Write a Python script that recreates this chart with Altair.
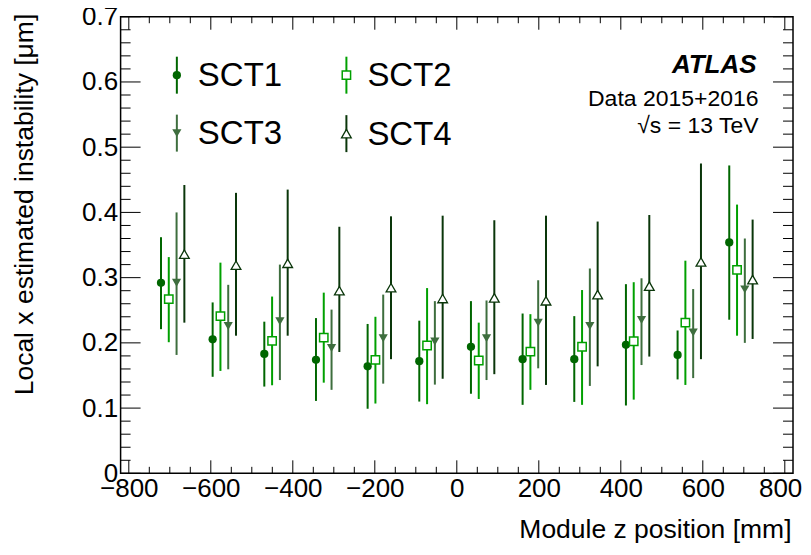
import altair as alt
import pandas as pd

# ---------------- data ----------------
series_names = ["SCT1", "SCT2", "SCT3", "SCT4"]
module_z = [-693, -567, -441, -315, -189, -63, 63, 189, 315, 441, 567, 693]
series_offset = [-28.5, -9.5, 9.5, 28.5]

sct1_val = [0.292, 0.2055, 0.183, 0.174, 0.164, 0.172, 0.194, 0.175, 0.175, 0.197, 0.1815, 0.354]
sct1_hi = [0.362, 0.262, 0.2325, 0.238, 0.229, 0.234, 0.264, 0.245, 0.241, 0.290, 0.219, 0.472]
sct1_lo = [0.221, 0.148, 0.133, 0.111, 0.099, 0.110, 0.122, 0.105, 0.1095, 0.104, 0.144, 0.2355]

sct2_val = [0.267, 0.241, 0.203, 0.208, 0.174, 0.196, 0.173, 0.1865, 0.194, 0.2025, 0.231, 0.312]
sct2_hi = [0.3315, 0.323, 0.271, 0.277, 0.240, 0.284, 0.231, 0.244, 0.281, 0.293, 0.326, 0.412]
sct2_lo = [0.201, 0.157, 0.135, 0.139, 0.107, 0.106, 0.114, 0.128, 0.105, 0.113, 0.1355, 0.211]

sct3_val = [0.292, 0.226, 0.233, 0.192, 0.207, 0.202, 0.207, 0.231, 0.226, 0.235, 0.216, 0.282]
sct3_hi = [0.400, 0.289, 0.320, 0.251, 0.274, 0.264, 0.265, 0.296, 0.314, 0.299, 0.2825, 0.360]
sct3_lo = [0.1815, 0.1595, 0.143, 0.128, 0.1375, 0.136, 0.143, 0.161, 0.134, 0.166, 0.146, 0.200]

sct4_val = [0.336, 0.319, 0.322, 0.280, 0.2845, 0.268, 0.269, 0.2645, 0.274, 0.287, 0.324, 0.297]
sct4_hi = [0.442, 0.430, 0.435, 0.378, 0.394, 0.395, 0.388, 0.395, 0.386, 0.396, 0.475, 0.389]
sct4_lo = [0.231, 0.211, 0.211, 0.186, 0.175, 0.145, 0.152, 0.1355, 0.164, 0.179, 0.175, 0.206]

x_major = [-800, -600, -400, -200, 0, 200, 400, 600, 800]
x_minor = [v for v in range(-800, 801, 50) if v % 200 != 0]
y_major = [0.0, 0.1, 0.2, 0.3, 0.4, 0.5, 0.6, 0.7]
y_minor = [round(0.02 * i, 2) for i in range(1, 35) if i % 5 != 0]

x_title = "Module z position [mm]"
y_title = "Local x estimated instability [\u03bcm]"
atlas_label = "ATLAS"
info_lines = ["Data 2015+2016", "\u221as = 13 TeV"]

# ---------------- styles ----------------
colors = ["#006600", "#00a000", "#3e6e3e", "#0a360a"]
FONT = "Liberation Sans"
W, H = 673, 457

rows = []
for name, off, vals, los, his in zip(
    series_names, series_offset,
    [sct1_val, sct2_val, sct3_val, sct4_val],
    [sct1_lo, sct2_lo, sct3_lo, sct4_lo],
    [sct1_hi, sct2_hi, sct3_hi, sct4_hi],
):
    for z, v, lo, hi in zip(module_z, vals, los, his):
        rows.append({"series": name, "z": z + off, "val": v, "lo": lo, "hi": hi})
df = pd.DataFrame(rows)

xscale = alt.Scale(domain=[-820, 820], nice=False, zero=False)
yscale = alt.Scale(domain=[0, 0.7], nice=False, zero=False)
cscale = alt.Scale(domain=series_names, range=colors)

x_axis = alt.Axis(
    values=x_major, ticks=False, tickSize=0, domain=False, grid=False,
    labelFont=FONT, labelFontSize=26, labelColor="black", labelPadding=2,
    labelFlush=False, labelOverlap=False,
    labelAlign={"condition": {"test": "datum.value == 800", "value": "right"}, "value": "center"},
    labelOffset={"condition": {"test": "datum.value == 800", "value": 17}, "value": 0},
    title=x_title, titleFont=FONT, titleFontSize=26.5, titleFontWeight="normal",
    titleColor="black", titleAlign="right", titleAnchor="end",
    titleX=671, titleY=64.5, titleBaseline="alphabetic",
)
y_axis = alt.Axis(
    values=y_major, ticks=False, tickSize=0, domain=False, grid=False,
    labelFont=FONT, labelFontSize=26, labelColor="black", labelPadding=3,
    labelFlush=False, labelOverlap=False, format=".1~f",
    title=y_title, titleFont=FONT, titleFontSize=26.5, titleFontWeight="normal",
    titleColor="black", titleAngle=-90, titleAlign="right", titleAnchor="end",
    titleX=-88.5, titleY=-3.5, titleBaseline="alphabetic",
)

base = alt.Chart(df)

# error bars
bars = base.mark_rule(strokeWidth=2).encode(
    x=alt.X("z:Q", scale=xscale, axis=x_axis),
    y=alt.Y("lo:Q", scale=yscale, axis=y_axis),
    y2="hi:Q",
    color=alt.Color("series:N", scale=cscale, legend=None),
)

marker_style = {
    "SCT1": dict(shape="circle", filled=True, size=68),
    "SCT2": dict(shape="square", filled=False, fill="white", size=70, strokeWidth=1.5, fillOpacity=1),
    "SCT3": dict(shape="triangle-down", filled=True, size=85),
    "SCT4": dict(shape="triangle-up", filled=False, fill="white", size=95, strokeWidth=1.3, fillOpacity=1),
}

marker_layers = []
for name, col in zip(series_names, colors):
    st = marker_style[name]
    m = base.transform_filter(alt.datum.series == name).mark_point(
        opacity=1, color=col, **st
    ).encode(
        x=alt.X("z:Q", scale=xscale, axis=x_axis),
        y=alt.Y("val:Q", scale=yscale, axis=y_axis),
    )
    marker_layers.append(m)

# tick marks (ROOT style, inward, on all four sides)
def yticks(vals, length):
    d = pd.DataFrame({"lo": vals})
    left = alt.Chart(d).mark_rule(color="black", strokeWidth=1).encode(
        y=alt.Y("lo:Q", scale=yscale, axis=y_axis), x=alt.value(0), x2=alt.value(length))
    right = alt.Chart(d).mark_rule(color="black", strokeWidth=1).encode(
        y=alt.Y("lo:Q", scale=yscale, axis=y_axis), x=alt.value(W), x2=alt.value(W - length))
    return [left, right]

def xticks(vals, length):
    d = pd.DataFrame({"z": vals})
    bottom = alt.Chart(d).mark_rule(color="black", strokeWidth=1).encode(
        x=alt.X("z:Q", scale=xscale, axis=x_axis), y=alt.value(H), y2=alt.value(H - length))
    top = alt.Chart(d).mark_rule(color="black", strokeWidth=1).encode(
        x=alt.X("z:Q", scale=xscale, axis=x_axis), y=alt.value(0), y2=alt.value(length))
    return [bottom, top]

tick_layers = yticks(y_major, 20) + yticks(y_minor, 10) + xticks(x_major, 13) + xticks(x_minor, 6.5)

# legend (manual, ROOT style)
leg_pos = {"SCT1": (56.3, 58.5), "SCT2": (226, 58.5), "SCT3": (56.3, 116.5), "SCT4": (226, 117)}
legend_layers = []
for name, col in zip(series_names, colors):
    lx, ly = leg_pos[name]
    d = pd.DataFrame({"series": [name]})
    legend_layers.append(alt.Chart(d).mark_rule(color=col, strokeWidth=2).encode(
        x=alt.value(lx), y=alt.value(ly - 18.5), y2=alt.value(ly + 18.5)))
    st = marker_style[name]
    legend_layers.append(alt.Chart(d).mark_point(opacity=1, color=col, **st).encode(
        x=alt.value(lx), y=alt.value(ly)))
    legend_layers.append(alt.Chart(d).mark_text(
        font=FONT, fontSize=33, color="black", align="left", baseline="alphabetic"
    ).encode(x=alt.value(lx + 21), y=alt.value(ly + 11), text="series:N"))

# ATLAS labels
atlas = alt.Chart(pd.DataFrame({"t": [atlas_label]})).mark_text(
    font=FONT, fontSize=26, fontStyle="italic", fontWeight="bold", color="black",
    align="right", baseline="alphabetic",
).encode(x=alt.value(636.5), y=alt.value(56.5), text="t:N")
info = alt.Chart(pd.DataFrame({"t": [info_lines[0]]})).mark_text(
    font=FONT, fontSize=23, color="black", align="right", baseline="alphabetic",
).encode(x=alt.value(638.5), y=alt.value(89.2), text="t:N")
info2 = alt.Chart(pd.DataFrame({"t": [info_lines[1]]})).mark_text(
    font=FONT, fontSize=23, color="black", align="right", baseline="alphabetic",
).encode(x=alt.value(638.5), y=alt.value(116.8), text="t:N")

chart = alt.layer(
    bars, *marker_layers, *tick_layers, *legend_layers, atlas, info, info2
).properties(
    width=W, height=H,
    autosize=alt.AutoSizeParams(type="none"),
    padding={"left": 112.7, "top": 8.5, "right": 10, "bottom": 75},
    background="white",
).configure_view(
    stroke="black", strokeWidth=1.5,
)

chart.save("out.html", embed_options={"renderer": "svg", "actions": False})
